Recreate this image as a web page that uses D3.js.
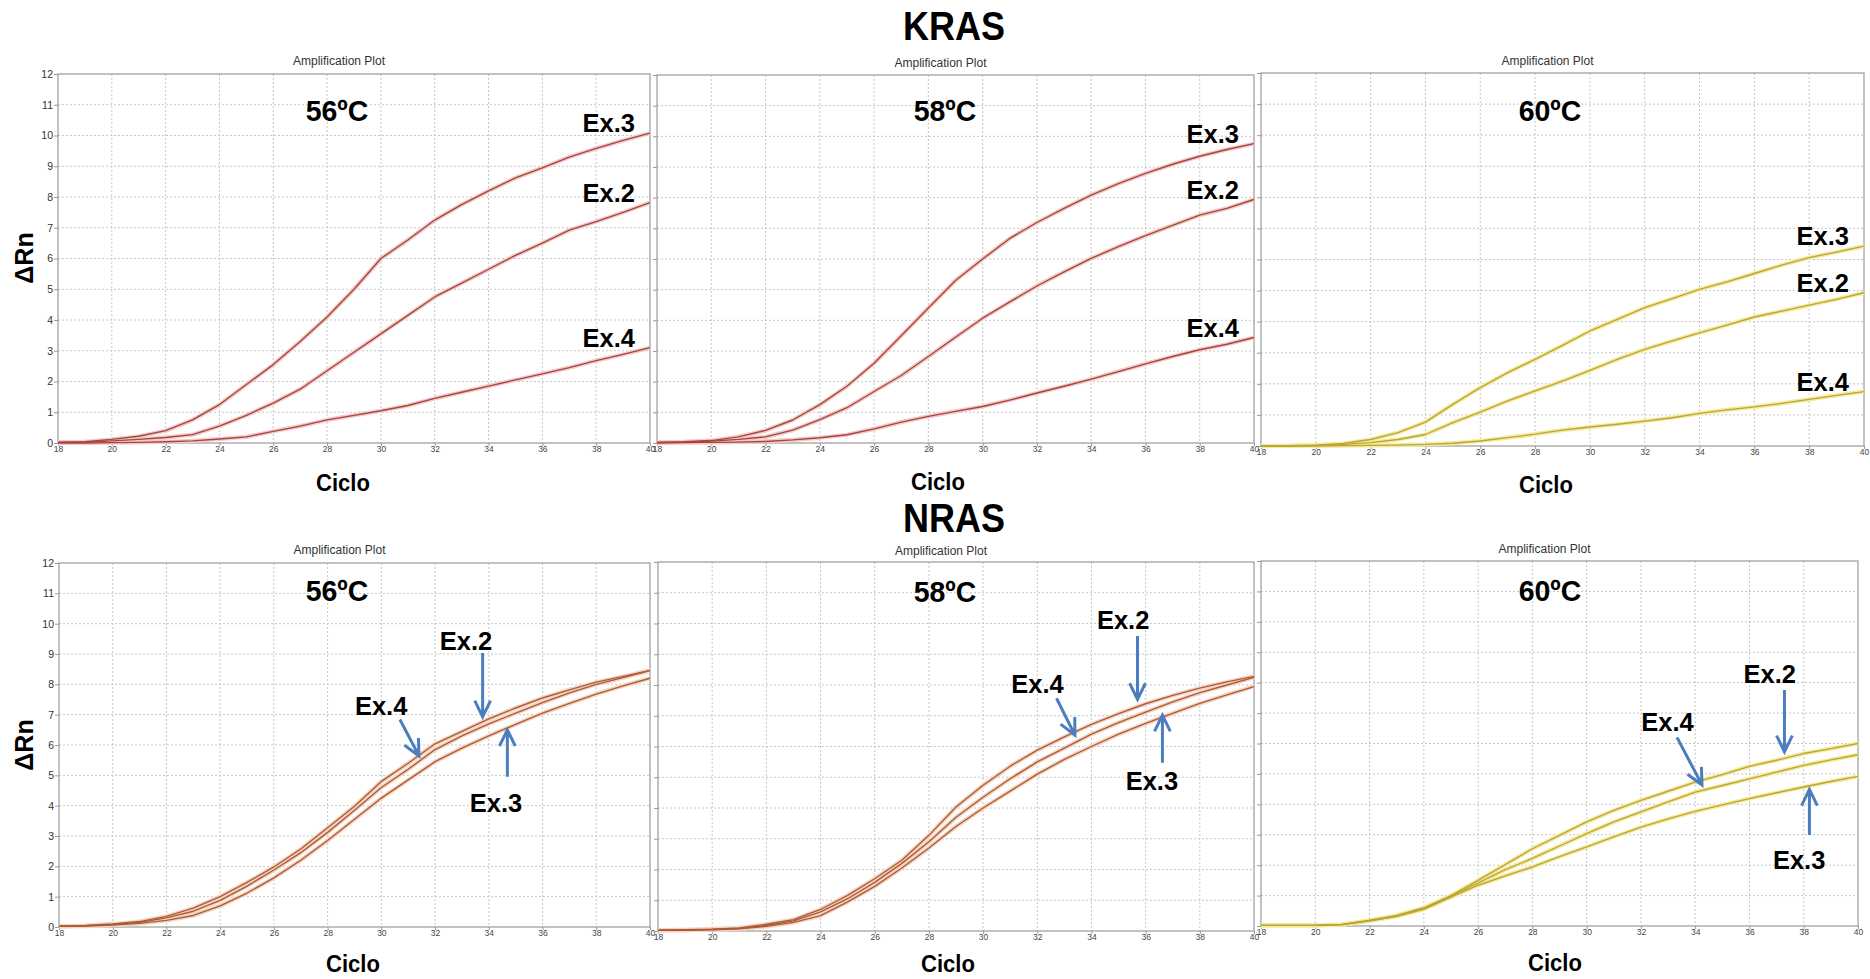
<!DOCTYPE html>
<html><head><meta charset="utf-8">
<script src="https://cdn.jsdelivr.net/npm/d3@7/dist/d3.min.js"></script>
<style>body{margin:0;background:#fff}svg{display:block}</style>
</head><body><svg id="c" width="1870" height="979"></svg>
<script>
// ---------- data ----------
const cycles = d3.range(18, 41);           // 18..40
const xTickValues = d3.range(18, 41, 2);
const yTickValues = d3.range(0, 13);

// KRAS 56ºC
const kras56Ex3 = [0.03,0.04,0.12,0.22,0.40,0.75,1.25,1.90,2.55,3.30,4.10,5.00,6.00,6.60,7.25,7.75,8.20,8.62,8.95,9.30,9.58,9.84,10.08];
const kras56Ex2 = [0.02,0.02,0.07,0.12,0.18,0.27,0.55,0.90,1.30,1.75,2.35,2.95,3.55,4.15,4.75,5.20,5.65,6.10,6.50,6.92,7.20,7.50,7.82];
const kras56Ex4 = [0.00,0.00,0.01,0.02,0.04,0.07,0.13,0.20,0.38,0.55,0.75,0.90,1.05,1.22,1.45,1.65,1.85,2.05,2.25,2.45,2.68,2.88,3.10];
// KRAS 58ºC
const kras58Ex3 = [0.02,0.04,0.08,0.20,0.41,0.75,1.25,1.85,2.60,3.50,4.40,5.30,6.00,6.67,7.19,7.65,8.08,8.46,8.79,9.09,9.35,9.57,9.76];
const kras58Ex2 = [0.02,0.03,0.06,0.12,0.20,0.42,0.76,1.15,1.68,2.20,2.82,3.45,4.07,4.60,5.12,5.58,6.02,6.40,6.76,7.10,7.43,7.65,7.94];
const kras58Ex4 = [0.00,0.01,0.02,0.03,0.05,0.10,0.17,0.27,0.46,0.68,0.87,1.03,1.19,1.40,1.63,1.85,2.08,2.33,2.58,2.82,3.04,3.22,3.44];
// KRAS 60ºC
const kras60Ex3 = [0.00,0.01,0.03,0.08,0.21,0.43,0.77,1.34,1.88,2.36,2.79,3.24,3.70,4.07,4.45,4.74,5.04,5.28,5.55,5.82,6.06,6.24,6.43];
const kras60Ex2 = [0.00,0.00,0.02,0.05,0.11,0.21,0.37,0.75,1.09,1.45,1.77,2.09,2.43,2.79,3.11,3.38,3.64,3.89,4.15,4.34,4.53,4.72,4.93];
const kras60Ex4 = [0.00,0.00,0.00,0.01,0.02,0.03,0.05,0.09,0.16,0.27,0.38,0.51,0.61,0.70,0.80,0.91,1.05,1.16,1.26,1.37,1.50,1.63,1.75];
// NRAS 56ºC
const nras56Ex4 = [0.03,0.05,0.10,0.18,0.35,0.62,1.00,1.47,1.98,2.57,3.27,3.98,4.80,5.40,6.04,6.45,6.86,7.22,7.55,7.82,8.07,8.26,8.46];
const nras56Ex2 = [0.03,0.04,0.08,0.15,0.30,0.52,0.88,1.35,1.88,2.45,3.12,3.85,4.60,5.20,5.85,6.30,6.70,7.05,7.40,7.72,8.00,8.22,8.45];
const nras56Ex3 = [0.02,0.03,0.06,0.12,0.22,0.38,0.70,1.12,1.62,2.20,2.85,3.55,4.25,4.85,5.45,5.90,6.30,6.68,7.05,7.37,7.68,7.95,8.20];
// NRAS 58ºC
const nras58Ex4 = [0.03,0.04,0.06,0.10,0.22,0.37,0.70,1.16,1.70,2.30,3.11,4.03,4.74,5.36,5.88,6.31,6.72,7.07,7.39,7.66,7.90,8.10,8.28];
const nras58Ex2 = [0.03,0.03,0.05,0.08,0.18,0.33,0.62,1.05,1.58,2.20,2.90,3.70,4.35,4.95,5.50,5.95,6.40,6.78,7.12,7.45,7.75,8.00,8.25];
const nras58Ex3 = [0.02,0.03,0.04,0.07,0.15,0.28,0.50,0.95,1.45,2.05,2.70,3.40,4.00,4.55,5.10,5.58,6.00,6.40,6.75,7.08,7.40,7.68,7.95];
// NRAS 60ºC
const nras60Ex2 = [0.02,0.02,0.02,0.05,0.19,0.35,0.60,1.00,1.50,2.02,2.54,2.98,3.42,3.80,4.13,4.43,4.73,4.98,5.25,5.45,5.67,5.83,6.00];
const nras60Ex4 = [0.02,0.02,0.02,0.05,0.17,0.32,0.57,0.98,1.42,1.85,2.22,2.63,3.04,3.42,3.75,4.08,4.40,4.62,4.84,5.06,5.28,5.46,5.63];
const nras60Ex3 = [0.02,0.02,0.02,0.05,0.17,0.32,0.55,0.95,1.34,1.65,1.94,2.28,2.60,2.93,3.25,3.52,3.77,3.98,4.19,4.38,4.57,4.75,4.92];

// ---------- layout & styles ----------
const palettes = {
  red:    {core:"#a9433f", halo:"#f1cbc7"},
  brown:  {core:"#ab5a3c", halo:"#f5d4be"},
  yellow: {core:"#bca435", halo:"#f3eba0"}
};

const panels = [
  {temp:"56ºC", box:[58,74,650,443],   pal:"red",    yLabels:true,  titleY:61,  tempY:110, tempX:337,  ciclo:[343,491],
   series:[["Ex.3",kras56Ex3],["Ex.2",kras56Ex2],["Ex.4",kras56Ex4]], endLabels:true},
  {temp:"58ºC", box:[657,75,1254,443], pal:"red",    yLabels:false, titleY:63,  tempY:110, tempX:945,  ciclo:[938,490],
   series:[["Ex.3",kras58Ex3],["Ex.2",kras58Ex2],["Ex.4",kras58Ex4]], endLabels:true},
  {temp:"60ºC", box:[1261,73,1864,446],pal:"yellow", yLabels:false, titleY:61,  tempY:110, tempX:1550, ciclo:[1546,493],
   series:[["Ex.3",kras60Ex3],["Ex.2",kras60Ex2],["Ex.4",kras60Ex4]], endLabels:true},
  {temp:"56ºC", box:[59,563,650,927],  pal:"brown",  yLabels:true,  titleY:550, tempY:590, tempX:337,  ciclo:[353,972],
   series:[["Ex.4",nras56Ex4],["Ex.2",nras56Ex2],["Ex.3",nras56Ex3]],
   notes:[{t:"Ex.2",at:[33.15,9.13],from:[33.77,9.03],to:[33.77,6.93]},
          {t:"Ex.4",at:[29.99,6.99],from:[30.69,6.84],to:[31.40,5.64]},
          {t:"Ex.3",at:[34.27,3.80],from:[34.69,4.95],to:[34.69,6.50]}]},
  {temp:"58ºC", box:[658,562,1254,931],pal:"brown",  yLabels:false, titleY:551, tempY:591, tempX:945,  ciclo:[948,972],
   series:[["Ex.4",nras58Ex4],["Ex.2",nras58Ex2],["Ex.3",nras58Ex3]],
   notes:[{t:"Ex.2",at:[35.17,9.81],from:[35.70,9.59],to:[35.70,7.53]},
          {t:"Ex.4",at:[32.01,7.73],from:[32.71,7.57],to:[33.39,6.37]},
          {t:"Ex.3",at:[36.23,4.59],from:[36.62,5.47],to:[36.62,7.02]}]},
  {temp:"60ºC", box:[1261,561,1858,926],pal:"yellow",yLabels:false, titleY:549, tempY:590, tempX:1550, ciclo:[1555,971],
   series:[["Ex.2",nras60Ex2],["Ex.4",nras60Ex4],["Ex.3",nras60Ex3]],
   notes:[{t:"Ex.2",at:[36.75,7.98],from:[37.29,7.76],to:[37.29,5.73]},
          {t:"Ex.4",at:[32.98,6.42],from:[33.33,6.20],to:[34.25,4.64]},
          {t:"Ex.3",at:[37.83,1.86],from:[38.21,2.99],to:[38.21,4.49]}]}
];

const BOLD = "'Liberation Sans', Arial, sans-serif";
const NARROW = "'Liberation Sans Narrow', 'Arial Narrow', 'Liberation Sans', sans-serif";
const svg = d3.select("#c");
svg.append("rect").attr("width",1870).attr("height",979).attr("fill","#fff");

function scaledText(g, x, y, txt, size, sx, anchor) {
  return g.append("text")
    .attr("transform", `translate(${x},${y}) scale(${sx},1)`)
    .attr("text-anchor", anchor || "middle")
    .attr("font-family", BOLD).attr("font-weight", "bold")
    .attr("font-size", size).attr("fill", "#000").text(txt);
}

// gene headings
scaledText(svg, 954, 40, "KRAS", 40, 0.9);
scaledText(svg, 954, 532, "NRAS", 40, 0.9);

panels.forEach(p => {
  const [x0,y0,x1,y1] = p.box;
  const x = d3.scaleLinear().domain([18,40]).range([x0,x1]);
  const y = d3.scaleLinear().domain([0,12]).range([y1,y0]);
  const g = svg.append("g");
  const pal = palettes[p.pal];

  // grid
  g.append("g").selectAll("line").data(xTickValues.filter(v => v>18 && v<40)).join("line")
    .attr("x1", d=>x(d)).attr("x2", d=>x(d)).attr("y1", y0).attr("y2", y1)
    .attr("stroke","#c6c6c6").attr("stroke-dasharray","2,2");
  g.append("g").selectAll("line").data(yTickValues.filter(v => v>0 && v<12)).join("line")
    .attr("x1", x0).attr("x2", x1).attr("y1", d=>y(d)).attr("y2", d=>y(d))
    .attr("stroke","#c6c6c6").attr("stroke-dasharray","2,2");

  // frame
  g.append("rect").attr("x",x0).attr("y",y0).attr("width",x1-x0).attr("height",y1-y0)
    .attr("fill","none").attr("stroke","#9a9a9a").attr("stroke-width",1.2);

  // axes
  const yAxis = d3.axisLeft(y).tickValues(yTickValues).tickSize(4)
    .tickFormat(p.yLabels ? d3.format("d") : () => "");
  const ya = g.append("g").attr("transform",`translate(${x0},0)`).call(yAxis);
  ya.select(".domain").remove();
  ya.selectAll("line").attr("stroke","#999");
  ya.selectAll("text").attr("font-family","'Liberation Sans', Arial, sans-serif")
    .attr("font-size",10.5).attr("fill","#333").attr("x",-5);

  const xAxis = d3.axisBottom(x).tickValues(xTickValues).tickSize(3).tickFormat(d3.format("d"));
  const xa = g.append("g").attr("transform",`translate(0,${y1})`).call(xAxis);
  xa.select(".domain").remove();
  xa.selectAll("line").attr("stroke","#999");
  xa.selectAll("text").attr("font-family",NARROW).attr("font-size",8.5).attr("fill","#444").attr("y",3);

  // lines
  const line = d3.line().x((d,i)=>x(cycles[i])).y(d=>y(d)).curve(d3.curveLinear);
  p.series.forEach(([name, vals]) => {
    g.append("path").attr("d", line(vals)).attr("fill","none")
      .attr("stroke", pal.halo).attr("stroke-width", 4.2).attr("stroke-linejoin","round");
  });
  p.series.forEach(([name, vals]) => {
    g.append("path").attr("d", line(vals)).attr("fill","none")
      .attr("stroke", pal.core).attr("stroke-width", 1.35).attr("stroke-linejoin","round");
  });

  // panel texts
  g.append("text").attr("x",(x0+x1)/2-15).attr("y",p.titleY).attr("dy","0.35em")
    .attr("text-anchor","middle").attr("font-family",NARROW).attr("font-size",12)
    .attr("fill","#333").text("Amplification Plot");
  scaledText(g, p.tempX, p.tempY+11, p.temp, 30, 0.95);
  scaledText(g, p.ciclo[0], p.ciclo[1], "Ciclo", 24, 0.92);

  if (p.endLabels) {
    p.series.forEach(([name, vals]) => {
      scaledText(g, x(40)-15, y(vals[vals.length-1])-1, name, 26, 0.98, "end");
    });
  }
  if (p.notes) {
    p.notes.forEach(n => {
      scaledText(g, x(n.at[0]), y(n.at[1]), n.t, 26, 0.98);
      const ax0 = x(n.from[0]), ay0 = y(n.from[1]), ax1 = x(n.to[0]), ay1 = y(n.to[1]);
      const ang = Math.atan2(ay1-ay0, ax1-ax0), L = 18, spread = 26*Math.PI/180;
      const w1 = [ax1 - L*Math.cos(ang-spread), ay1 - L*Math.sin(ang-spread)];
      const w2 = [ax1 - L*Math.cos(ang+spread), ay1 - L*Math.sin(ang+spread)];
      g.append("path")
        .attr("d", `M${ax0},${ay0}L${ax1},${ay1}M${w1[0]},${w1[1]}L${ax1},${ay1}L${w2[0]},${w2[1]}`)
        .attr("fill","none").attr("stroke","#4a7ebf").attr("stroke-width",3)
        .attr("stroke-linecap","butt").attr("stroke-linejoin","miter");
    });
  }
});

// y-axis titles
[258, 745].forEach(cy => {
  svg.append("text").attr("transform",`translate(33,${cy}) rotate(-90)`)
    .attr("text-anchor","middle").attr("font-family",BOLD).attr("font-weight","bold")
    .attr("font-size",25).attr("fill","#000").text("ΔRn");
});
</script></body></html>
